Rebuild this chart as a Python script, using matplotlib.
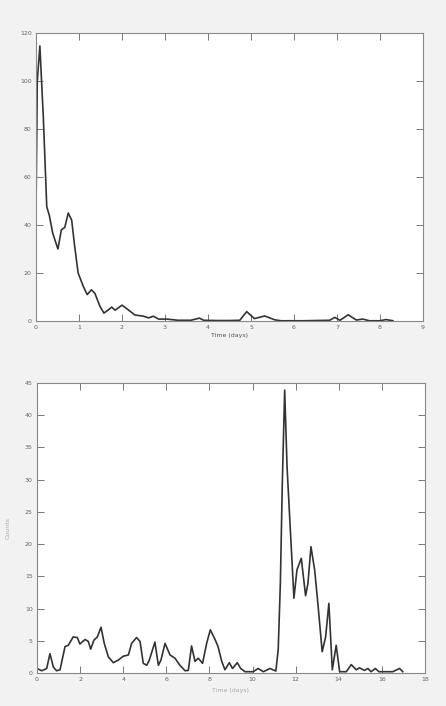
import matplotlib.pyplot as plt

# top panel: decay curve
t1 = [0.0, 0.03, 0.09, 0.17, 0.25, 0.31, 0.39, 0.51, 0.59, 0.67, 0.75, 0.83, 0.9, 0.98,
      1.1, 1.19, 1.29, 1.37, 1.49, 1.58, 1.68, 1.76, 1.84, 2.0, 2.15, 2.3, 2.5, 2.62,
      2.73, 2.85, 3.04, 3.3, 3.6, 3.8, 3.9, 4.2, 4.5, 4.74, 4.9, 5.08, 5.32, 5.55, 5.7,
      6.2, 6.83, 6.95, 7.07, 7.26, 7.45, 7.6, 7.75, 8.0, 8.14, 8.3]
y1 = [46, 100, 114.6, 85, 47.6, 44, 36.5, 30, 38, 39, 45, 42, 31, 20,
      14.4, 11, 13, 11.5, 6, 3.3, 4.6, 5.8, 4.5, 6.6, 4.6, 2.5, 2, 1.3,
      2, 0.8, 0.8, 0.3, 0.3, 1.2, 0.3, 0.2, 0.2, 0.3, 3.9, 1, 2.1, 0.5, 0.1,
      0.1, 0.3, 1.5, 0.3, 2.6, 0.4, 0.8, 0.1, 0.1, 0.6, 0.1]

# bottom panel
t2 = [0.0, 0.22, 0.45, 0.6, 0.76, 0.91, 1.07, 1.3, 1.45, 1.68, 1.87, 1.99, 2.23, 2.38,
      2.49, 2.64, 2.8, 2.97, 3.12, 3.31, 3.54, 3.77, 4.0, 4.24, 4.39, 4.62, 4.78, 4.93,
      5.09, 5.21, 5.47, 5.63, 5.75, 5.94, 6.17, 6.4, 6.63, 6.87, 7.02, 7.17, 7.33, 7.48,
      7.68, 7.87, 8.04, 8.26, 8.4, 8.57, 8.72, 8.92, 9.07, 9.29, 9.45, 9.65, 10.03,
      10.26, 10.5, 10.81, 11.08, 11.19, 11.29, 11.38, 11.49, 11.6, 11.72, 11.92, 12.06,
      12.26, 12.46, 12.57, 12.71, 12.88, 13.03, 13.23, 13.39, 13.54, 13.7, 13.88, 14.04,
      14.35, 14.58, 14.81, 14.96, 15.19, 15.35, 15.5, 15.7, 15.86, 16.5, 16.82, 16.97]
y2 = [0.7, 0.35, 0.7, 3.0, 0.9, 0.35, 0.5, 4.1, 4.3, 5.6, 5.5, 4.5, 5.2, 4.9,
      3.7, 5.1, 5.6, 7.1, 4.6, 2.5, 1.6, 2.0, 2.6, 2.8, 4.6, 5.5, 4.9, 1.5,
      1.2, 2.0, 4.8, 1.2, 2.0, 4.6, 2.8, 2.3, 1.2, 0.35, 0.4, 4.2, 1.8, 2.3,
      1.5, 4.6, 6.7, 5.2, 4.1, 1.8, 0.5, 1.6, 0.7, 1.6, 0.7, 0.2, 0.2,
      0.7, 0.2, 0.7, 0.3, 3.6, 13.9, 29.4, 43.9, 32, 24.3, 11.6, 16,
      17.8, 12, 13.9, 19.6, 16, 10.8, 3.3, 5.6, 10.8, 0.5, 4.3, 0.2,
      0.2, 1.3, 0.5, 0.8, 0.4, 0.7, 0.2, 0.7, 0.2, 0.2, 0.7, 0.2]

fig = plt.figure(figsize=(4.46, 7.06), dpi=100, facecolor='#f2f2f2')
W, H = 446, 706

def style(ax):
    for s in ax.spines.values():
        s.set_color('#888888')
        s.set_linewidth(0.8)
    ax.tick_params(direction='in', length=5, width=0.7, color='#777777',
                   labelsize=4.5, labelcolor='#666666', top=True, right=True, pad=3)

ax1 = fig.add_axes([36 / W, 1 - 321 / H, (423 - 36) / W, (321 - 33) / H])
ax1.plot(t1, y1, color='#333333', lw=1.2)
ax1.set_xlim(0, 9)
ax1.set_ylim(0, 120)
ax1.set_xticks(range(0, 10))
ax1.set_yticks(range(0, 121, 20))
ax1.set_xlabel('Time (days)', fontsize=4.5, color='#555555', labelpad=2)
style(ax1)

ax2 = fig.add_axes([37 / W, 1 - 673 / H, (425 - 37) / W, (673 - 383) / H])
ax2.plot(t2, y2, color='#333333', lw=1.2)
ax2.set_xlim(0, 18)
ax2.set_ylim(0, 45)
ax2.set_xticks(range(0, 19, 2))
ax2.set_yticks(range(0, 46, 5))
ax2.set_xlabel('Time (days)', fontsize=4.5, color='#aaaaaa', labelpad=4)
ax2.set_ylabel('Counts', fontsize=4.5, color='#aaaaaa', labelpad=10)
style(ax2)

fig.savefig('out.png', dpi=100, facecolor=fig.get_facecolor())
